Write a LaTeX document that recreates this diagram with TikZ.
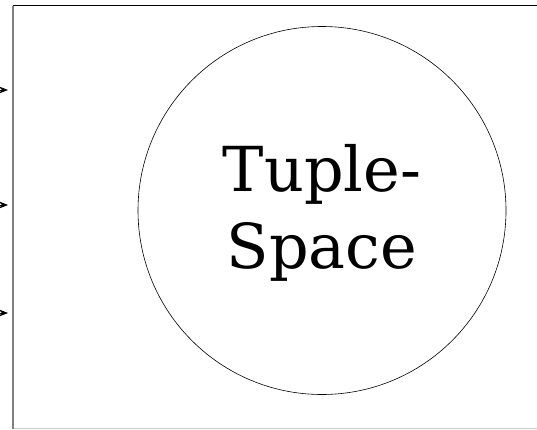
\documentclass[tikz,border=0pt]{standalone}
\usepackage{fontspec}
\setmainfont{DejaVu Serif}
\usetikzlibrary{arrows.meta}
\begin{document}
\begin{tikzpicture}[x=1pt,y=1pt,
  inarrow/.style={-{Stealth[length=9pt,width=7pt]}, line width=0.8pt}]
\useasboundingbox (0,0) rectangle (537,429);
\fill[white] (0,0) rectangle (537,429);
% frame
\draw[black, line width=1pt] (13,423) -- (537,423);
\draw[gray!40, line width=0.8pt] (13,1) -- (537,1);
\draw[gray, line width=2pt] (13,423) -- (13,0);
% circle
\node[circle, draw, line width=0.6pt, minimum size=368pt, inner sep=0pt] (ts) at (322,218.5) {};
\node[align=center, font=\fontsize{62}{77}\selectfont] (lbl) at (322,216) {Tuple-\\Space};
% arrows into the frame
\coordinate (s1) at (-20,339); \coordinate (e1) at (8,339);
\coordinate (s2) at (-20,224); \coordinate (e2) at (8,224);
\coordinate (s3) at (-20,116); \coordinate (e3) at (8,116);
\draw[inarrow] (s1) -- (e1);
\draw[inarrow] (s2) -- (e2);
\draw[inarrow] (s3) -- (e3);
\end{tikzpicture}
\end{document}
